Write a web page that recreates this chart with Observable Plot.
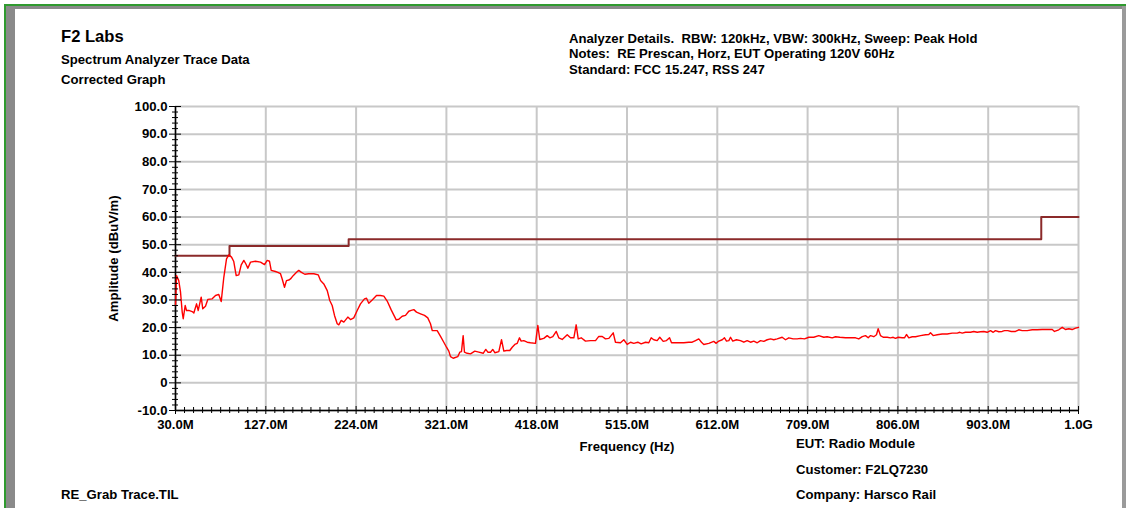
<!DOCTYPE html>
<html>
<head>
<meta charset="utf-8">
<script src="https://cdn.jsdelivr.net/npm/d3@7"></script>
<script src="https://cdn.jsdelivr.net/npm/@observablehq/plot@0.6"></script>
<style>
html, body { margin: 0; padding: 0; background: #fff; }
#page { position: relative; width: 1126px; height: 508px; overflow: hidden;
  font-family: "Liberation Sans", Arial, Helvetica, sans-serif; font-weight: bold; color: #000; }
#chart { position: absolute; left: 0; top: 0; }
.t { position: absolute; white-space: pre; line-height: 1; font-size: 13.15px; }
.b { position: absolute; }
</style>
</head>
<body>
<div id="page">
  <div id="chart"></div>
  <div class="b" style="left:4px;top:4px;width:1122px;height:2px;background:#2f9a2f"></div>
  <div class="b" style="left:4px;top:4px;width:2px;height:504px;background:#2f9a2f"></div>
  <div class="b" style="left:6px;top:6px;width:1116px;height:3px;background:#8a8a8a"></div>
  <div class="b" style="left:6px;top:6px;width:9px;height:502px;background:#8a8a8a"></div>
  <div class="b" style="left:1122px;top:6px;width:4px;height:502px;background:#9a9a9a"></div>

  <div class="t" id="title" style="left:61px;top:29px;font-size:16.6px"></div>
  <div class="t" id="sub1" style="left:61px;top:53px"></div>
  <div class="t" id="sub2" style="left:61px;top:73px"></div>
  <div class="t" id="n1" style="left:569px;top:32px"></div>
  <div class="t" id="n2" style="left:569px;top:47px"></div>
  <div class="t" id="n3" style="left:569px;top:63px"></div>
  <div class="t" id="f0" style="left:61px;top:488px"></div>
  <div class="t" id="f1" style="left:796px;top:437px"></div>
  <div class="t" id="f2" style="left:796px;top:463px"></div>
  <div class="t" id="f3" style="left:796px;top:488px"></div>
</div>
<script>
// ---- texts ----
const titleText = "F2 Labs";
const subtitleLines = ["Spectrum Analyzer Trace Data", "Corrected Graph"];
const noteLines = [
  "Analyzer Details.  RBW: 120kHz, VBW: 300kHz, Sweep: Peak Hold",
  "Notes:  RE Prescan, Horz, EUT Operating 120V 60Hz",
  "Standard: FCC 15.247, RSS 247"
];
const fileText = "RE_Grab Trace.TIL";
const footerLines = ["EUT: Radio Module", "Customer: F2LQ7230", "Company: Harsco Rail"];
const xLabel = "Frequency (Hz)";
const yLabel = "Amplitude (dBuV/m)";

// ---- axes ----
const xTicks = [30, 127, 224, 321, 418, 515, 612, 709, 806, 903, 1000]; // MHz
const yTicks = [-10, 0, 10, 20, 30, 40, 50, 60, 70, 80, 90, 100];

// ---- limit line (dBuV/m) ----
const limitFreq = [30, 88, 216, 960, 1000];
const limitDb   = [46, 49.5, 52, 60, 60];

// ---- measured trace [MHz, dBuV/m] ----
const tracePoints = [
[30.0,28.0],[31.1,38.8],[33.5,37.0],[35.4,32.8],[37.2,25.6],[38.3,23.2],[40.4,28.0],[41.8,26.2],[44.3,26.2],[47.9,25.8],
[49.7,25.3],[52.6,28.6],[54.4,26.2],[57.6,31.0],[59.3,26.8],[62.2,27.7],[64.7,30.2],[69.4,30.4],[73.0,31.6],[76.5,32.0],
[79.1,29.4],[81.9,38.2],[84.8,44.9],[87.3,46.3],[90.2,45.5],[92.6,43.9],[95.2,38.8],[98.0,39.1],[100.6,42.7],[103.4,44.3],
[105.5,43.1],[107.7,41.5],[110.6,43.7],[115.9,44.0],[121.3,43.7],[125.6,42.8],[128.5,44.3],[131.0,44.0],[132.8,40.7],[137.4,40.3],
[139.9,40.0],[142.8,39.5],[144.6,37.6],[147.1,34.6],[149.2,37.0],[151.7,37.2],[153.5,37.6],[156.4,38.8],[160.0,40.0],[162.4,40.7],
[165.3,40.0],[168.9,39.3],[173.2,39.5],[178.6,39.5],[183.3,39.1],[185.8,37.0],[189.3,35.8],[193.0,33.4],[195.7,29.8],[198.3,28.0],
[200.8,24.4],[203.7,21.4],[205.4,21.0],[208.0,22.6],[210.8,22.0],[215.1,23.8],[218.0,22.9],[221.5,23.5],[225.2,26.2],[228.7,28.6],
[233.0,30.4],[235.2,30.6],[237.6,28.8],[241.3,30.0],[245.9,31.6],[250.2,31.6],[253.8,31.4],[257.4,29.6],[261.7,26.4],[267.1,22.8],
[269.9,23.0],[273.5,24.1],[277.1,24.4],[280.6,25.9],[283.2,26.2],[286.0,26.5],[288.9,25.6],[293.2,25.0],[297.5,24.4],[301.0,23.5],
[303.9,21.4],[305.8,18.9],[311.1,18.9],[314.7,16.8],[318.2,14.7],[321.1,12.9],[323.6,11.5],[325.4,9.5],[328.3,8.9],[333.2,9.5],
[335.4,11.1],[337.2,11.3],[339.0,17.1],[340.4,11.1],[343.3,10.7],[346.9,10.5],[351.5,11.5],[355.8,11.1],[360.5,10.7],[363.3,12.1],
[365.5,11.1],[368.4,11.1],[370.8,12.1],[373.0,10.9],[377.3,11.3],[380.2,15.6],[382.7,11.5],[385.6,11.7],[389.1,11.7],[391.7,12.9],
[394.5,13.9],[397.1,14.3],[399.5,16.3],[401.3,15.1],[404.1,15.3],[407.8,14.7],[411.3,14.5],[416.7,14.3],[419.2,20.8],[421.3,15.7],
[425.6,16.1],[429.3,17.1],[432.1,16.3],[435.3,16.7],[439.0,18.6],[441.7,16.3],[445.4,15.7],[450.8,17.4],[454.3,16.3],[457.9,16.3],
[460.4,21.0],[462.6,15.9],[465.8,16.3],[470.4,15.1],[475.8,15.3],[481.2,15.3],[484.7,16.8],[488.4,16.8],[491.9,15.9],[495.5,16.1],
[500.2,18.1],[502.6,14.7],[508.0,14.5],[511.6,15.6],[515.2,13.9],[518.8,14.7],[522.3,14.3],[526.6,14.7],[530.2,14.1],[534.9,14.7],
[538.4,14.5],[541.0,16.3],[543.8,15.6],[547.4,15.3],[550.2,16.5],[553.9,15.0],[557.4,15.3],[560.7,16.3],[562.8,14.5],[568.9,14.5],
[576.0,14.5],[581.4,14.7],[585.0,14.7],[588.6,15.3],[592.1,15.9],[595.0,14.7],[597.5,13.9],[602.9,14.3],[608.2,15.0],[610.8,14.3],
[613.0,15.0],[617.3,15.6],[619.7,16.3],[621.9,15.1],[624.4,15.3],[626.2,16.5],[628.6,15.1],[632.6,15.6],[636.9,15.3],[640.5,14.7],
[644.1,15.3],[647.7,14.7],[651.2,15.1],[654.9,14.5],[658.4,15.3],[662.0,15.0],[665.6,15.6],[669.2,15.9],[672.7,15.6],[676.3,15.9],
[681.7,16.5],[685.3,15.6],[688.8,16.3],[693.5,15.9],[697.8,15.9],[701.4,16.1],[705.7,15.9],[710.3,16.5],[715.6,16.5],[721.0,17.1],
[726.4,16.5],[730.0,16.7],[735.4,16.3],[739.0,16.7],[743.6,16.5],[749.7,16.3],[755.1,16.3],[760.5,16.3],[764.0,15.9],[767.7,16.7],
[771.2,17.1],[774.1,16.3],[776.6,17.1],[780.1,16.7],[783.0,17.4],[784.8,19.6],[787.3,17.1],[790.2,16.5],[794.5,16.5],[798.0,16.3],
[800.9,16.5],[803.4,16.1],[806.3,16.5],[810.6,16.3],[813.1,16.3],[815.2,17.5],[817.7,16.3],[821.4,16.7],[824.9,16.7],[830.3,17.1],
[835.7,17.4],[839.2,17.5],[841.0,18.1],[843.9,17.1],[848.2,17.4],[853.6,17.7],[858.9,17.7],[864.3,18.0],[869.7,18.0],[872.5,18.3],
[875.1,18.0],[878.6,18.3],[884.0,18.3],[887.5,18.6],[891.2,18.3],[894.7,18.5],[898.3,18.6],[901.9,18.3],[905.5,18.9],[908.4,18.3],
[910.8,18.9],[914.4,18.5],[918.0,18.6],[920.5,18.9],[924.0,18.9],[927.7,18.6],[932.3,18.6],[935.8,19.2],[939.5,18.9],[944.9,18.9],
[950.3,19.2],[955.6,19.2],[961.0,19.3],[966.4,19.3],[971.8,19.3],[974.2,18.6],[978.8,19.2],[982.5,20.1],[986.0,19.3],[989.6,19.6],
[993.2,19.3],[996.8,19.8],[1000.0,20.1]
];

// ---- fill html text ----
document.getElementById("title").textContent = titleText;
document.getElementById("sub1").textContent = subtitleLines[0];
document.getElementById("sub2").textContent = subtitleLines[1];
["n1","n2","n3"].forEach((id,i) => document.getElementById(id).textContent = noteLines[i]);
document.getElementById("f0").textContent = fileText;
["f1","f2","f3"].forEach((id,i) => document.getElementById(id).textContent = footerLines[i]);

// ---- derived tables ----
const trace = tracePoints.map(([f, db]) => ({f, db}));
const limit = limitFreq.map((f, i) => ({f, db: limitDb[i]}));
const xMinor = [];
for (let i = 0; i < xTicks.length - 1; i++)
  for (let k = 1; k < 10; k++) xMinor.push(xTicks[i] + (xTicks[i+1] - xTicks[i]) * k / 10);
const yMinor = [];
for (let i = 0; i < yTicks.length - 1; i++)
  for (let k = 1; k < 5; k++) yMinor.push(yTicks[i] + (yTicks[i+1] - yTicks[i]) * k / 5);

const fmtX = d => d >= 1000 ? (d / 1000).toFixed(1) + "G" : d.toFixed(1) + "M";
const fmtY = d => d === 0 ? "0" : d.toFixed(1);
const grid = {stroke: "#c8c8c8", strokeOpacity: 1, strokeWidth: 2};

const chart = Plot.plot({
  width: 1126,
  height: 508,
  marginLeft: 175,
  marginRight: 48,
  marginTop: 106,
  marginBottom: 98,
  style: {fontFamily: "'Liberation Sans', Arial, Helvetica, sans-serif", fontSize: "13.15px", fontWeight: "bold", color: "#000", background: "transparent"},
  x: {type: "linear", domain: [30, 1000], label: null},
  y: {type: "linear", domain: [-10, 100], label: null},
  marks: [
    Plot.gridX(xTicks, grid),
    Plot.gridY(yTicks, grid),
    Plot.ruleX([30], {stroke: "#000", strokeWidth: 1.5}),
    Plot.ruleY([-10], {stroke: "#000", strokeWidth: 1.5}),
    Plot.line(limit, {x: "f", y: "db", curve: "step-after", stroke: "#8b2a2a", strokeWidth: 2}),
    Plot.line(trace, {x: "f", y: "db", stroke: "#ff0000", strokeWidth: 1.4}),
    // tick marks crossing the axis lines
    Plot.axisX(xTicks, {anchor: "bottom", tickSize: 8, dy: -4, fill: "none", label: null}),
    Plot.axisX(xMinor, {anchor: "bottom", tickSize: 6, dy: -3, fill: "none", label: null}),
    Plot.axisY(yTicks, {anchor: "left", tickSize: 12, dx: 6, fill: "none", label: null}),
    Plot.axisY(yMinor, {anchor: "left", tickSize: 6, dx: 3, fill: "none", label: null}),
    // tick labels + axis titles
    Plot.axisX(xTicks, {anchor: "bottom", tickSize: 0, tickPadding: 9, tickFormat: fmtX,
      label: xLabel, labelAnchor: "center", labelOffset: 40, labelArrow: "none"}),
    Plot.axisY(yTicks, {anchor: "left", tickSize: 0, tickPadding: 8, tickFormat: fmtY,
      label: yLabel, labelAnchor: "center", labelOffset: 67, labelArrow: "none"})
  ]
});
document.getElementById("chart").appendChild(chart);
</script>
</body>
</html>
